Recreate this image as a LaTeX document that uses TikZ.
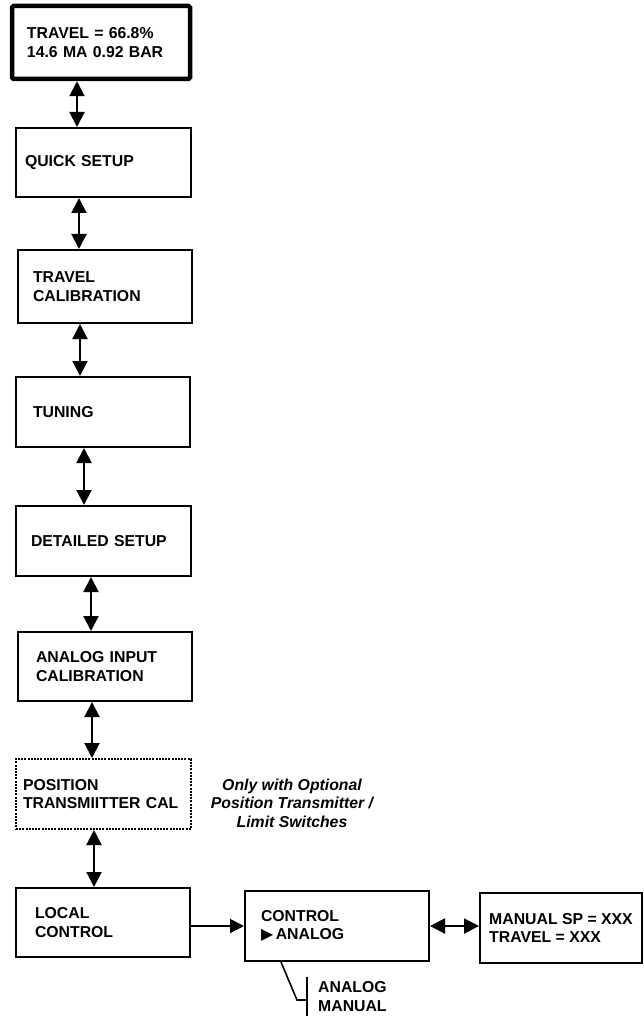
\documentclass[tikz,border=0pt]{standalone}
\usepackage{fontspec}
\setmainfont{Liberation Sans}
\newfontfamily\symfont{DejaVu Sans}
\usetikzlibrary{arrows.meta,positioning}
\newcommand{\menufont}{\fontsize{15.8}{18.5}\selectfont\bfseries}
\tikzset{
  menu/.style = {draw, line width=2pt, minimum height=70pt, align=left,
                 inner ysep=0pt, font=\menufont},
  dbl/.style  = {{Triangle[length=15pt,width=15pt]}-{Triangle[length=15pt,width=15pt]},
                 line width=2pt},
  sig/.style  = {-{Triangle[length=14pt,width=14pt]}, line width=2pt},
}
\begin{document}
\begin{tikzpicture}[x=1pt,y=-1pt]
\useasboundingbox (0,0) rectangle (643,1016);
% menu column
\node[menu, line width=4.5pt, rounded corners=1.5pt, minimum height=73pt,
      text width=148pt, inner xsep=15pt] (disp) at (101,42.5)
      {TRAVEL = 66.8\%\\14.6 MA 0.92 BAR};
\node[menu, minimum height=69pt, text width=157pt, inner xsep=9pt] (quick) at (103.5,162.5) {QUICK SETUP};
\node[menu, minimum height=73pt, text width=144pt, inner xsep=15pt] (trav) at (105,286.5) {TRAVEL\\CALIBRATION};
\node[menu, text width=140pt, inner xsep=17pt] (tune) at (103,412) {TUNING};
\node[menu, text width=145pt, inner xsep=15pt] (detail) at (103.5,541) {DETAILED SETUP};
\node[menu, minimum height=69pt, text width=138pt, inner xsep=18pt] (ain) at (105,666.5) {ANALOG INPUT\\CALIBRATION};
\node[menu, dash pattern=on 2pt off 1.2pt, text width=161pt, inner xsep=7pt] (ptx) at (103.5,794)
      {POSITION\\TRANSMIITTER CAL};
\node[menu, minimum height=69pt, text width=136pt, inner xsep=19pt] (local) at (103,922.5) {LOCAL\\CONTROL};
% control row
\node[menu, text width=152pt, inner xsep=16pt] (ctrl) at (337,926)
      {CONTROL\\{\symfont ▶}\,ANALOG};
\node[menu, minimum width=162pt] (manset) at (561,928)
      {MANUAL SP = XXX\\TRAVEL = XXX};
\node[font=\menufont, align=left, inner xsep=11pt, inner ysep=0pt, minimum height=39pt,
      anchor=west] (modes) at (307,996.5) {ANALOG\\MANUAL};
\node[font=\menufont\itshape, align=center] (note) at (292,803)
      {Only with Optional\\Position Transmitter /\\Limit Switches};

\foreach \a/\b/\x in {disp/quick/77, quick/trav/79, trav/tune/80, tune/detail/84,
                      detail/ain/91, ain/ptx/92, ptx/local/94}
  \draw[dbl] (\a.south -| \x,0) -- (\b.north -| \x,0);
\draw[sig] (local.east |- ctrl.west) -- (ctrl.west);
\draw[dbl] (ctrl.east) -- (manset.west |- ctrl.east);
% mode list
\draw[line width=2pt] (modes.north west) -- (modes.south west);
\draw[line width=1.6pt] (ctrl.south -| 281,0) -- (297,1000) -- (modes.west |- 0,1000);
\end{tikzpicture}
\end{document}
